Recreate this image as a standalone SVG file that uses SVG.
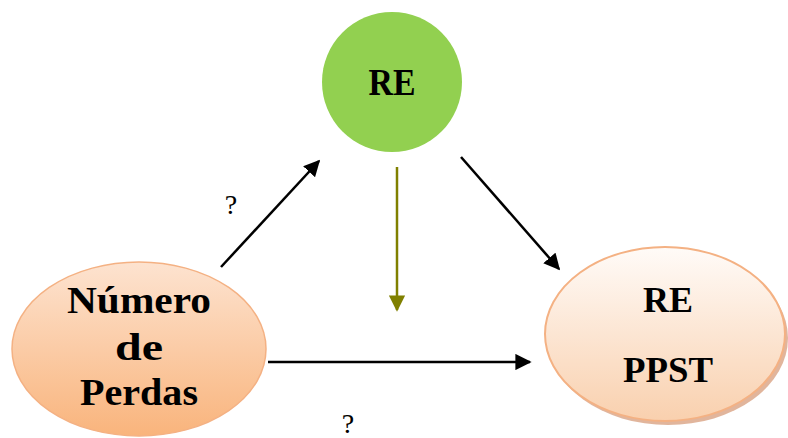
<svg xmlns="http://www.w3.org/2000/svg" width="788" height="438" viewBox="0 0 788 438">
<defs>
<linearGradient id="gL" x1="0" y1="0" x2="0" y2="1">
<stop offset="0" stop-color="#fde3d0"/>
<stop offset="1" stop-color="#f9b47c"/>
</linearGradient>
<linearGradient id="gR" x1="0" y1="0" x2="0" y2="1">
<stop offset="0" stop-color="#fffbf8"/>
<stop offset="1" stop-color="#f9d0ae"/>
</linearGradient>
<marker id="ab" viewBox="0 0 10 10" refX="9" refY="5" markerWidth="6.5" markerHeight="6.5" markerUnits="strokeWidth" orient="auto">
<path d="M0,0 L10,5 L0,10 z" fill="#000"/>
</marker>
<marker id="ao" viewBox="0 0 10 10" refX="9" refY="5" markerWidth="6.5" markerHeight="6.5" markerUnits="strokeWidth" orient="auto">
<path d="M0,0 L10,5 L0,10 z" fill="#808000"/>
</marker>
</defs>
<style>
.t{font-family:"Liberation Serif","DejaVu Serif",serif;font-weight:bold;fill:#000;text-anchor:middle}
.q{font-family:"Liberation Serif","DejaVu Serif",serif;font-size:28px;fill:#000;text-anchor:middle}
.c{stroke:#000;stroke-width:2.5;fill:none;marker-end:url(#ab)}
</style>
<g id="connectors">
<line class="c" x1="221" y1="267" x2="319" y2="161"/>
<line x1="397" y1="167" x2="397" y2="310" stroke="#808000" stroke-width="2.5" marker-end="url(#ao)"/>
<line class="c" x1="461" y1="157" x2="559" y2="269"/>
<line class="c" x1="268" y1="362" x2="530" y2="362"/>
<text class="q" x="231" y="214">?</text>
<text class="q" x="348" y="433">?</text>
</g>
<g id="node-re">
<circle cx="392" cy="82" r="70" fill="#92d050"/>
<text class="t" x="392" y="95" font-size="37" textLength="47" lengthAdjust="spacingAndGlyphs">RE</text>
</g>
<g id="node-numero">
<ellipse cx="139" cy="349" rx="127" ry="87" fill="url(#gL)" stroke="#f4b183" stroke-width="1.5"/>
<text class="t" x="139" y="313" font-size="38" textLength="144" lengthAdjust="spacingAndGlyphs">Número</text>
<text class="t" x="139" y="360" font-size="38" textLength="48" lengthAdjust="spacingAndGlyphs">de</text>
<text class="t" x="139" y="405" font-size="38" textLength="118" lengthAdjust="spacingAndGlyphs">Perdas</text>
</g>
<g id="node-re-ppst">
<ellipse cx="668" cy="338" rx="120" ry="87" fill="#d9a383" opacity="0.8"/>
<ellipse cx="665" cy="334" rx="120" ry="87" fill="url(#gR)" stroke="#f4b183" stroke-width="2"/>
<text class="t" x="668" y="312" font-size="36" textLength="50" lengthAdjust="spacingAndGlyphs">RE</text>
<text class="t" x="668" y="382" font-size="36" textLength="90" lengthAdjust="spacingAndGlyphs">PPST</text>
</g>
</svg>
